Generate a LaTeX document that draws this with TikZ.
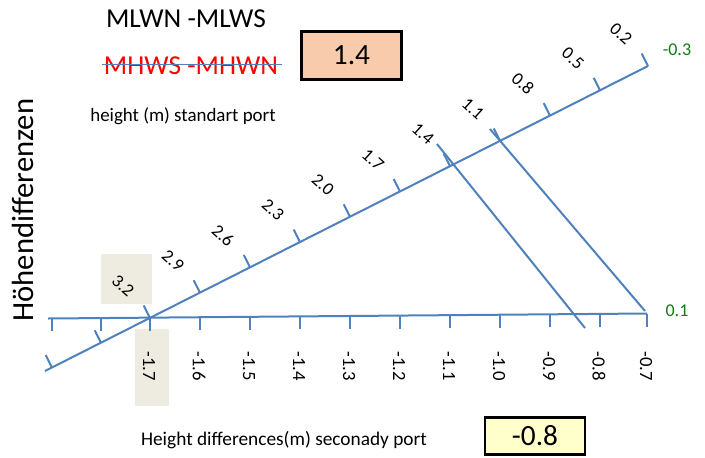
\documentclass[tikz,border=0pt]{standalone}
\usepackage{fontspec}
\setmainfont{Carlito}
\usepackage{xcolor}
\usetikzlibrary{positioning,calc}

\definecolor{scaleblue}{RGB}{79,129,189}
\definecolor{endgreen}{RGB}{20,120,20}
\definecolor{tanbg}{RGB}{238,236,225}
\definecolor{peach}{RGB}{248,203,173}
\definecolor{paleyellow}{RGB}{255,255,204}

\begin{document}
\begin{tikzpicture}[
    x=0.75pt, y=-0.75pt,
    scl/.style={draw=scaleblue, line width=1.5pt},
    dlbl/.style={font=\fontsize{13.5}{15}\selectfont, rotate=-42, inner sep=0pt},
    hlbl/.style={font=\fontsize{14}{16}\selectfont, rotate=-90, inner sep=0pt},
    endlbl/.style={text=endgreen, font=\fontsize{13.5}{15}\selectfont, inner sep=0pt},
    valbox/.style={draw=black, line width=2.2pt, minimum width=75pt, font=\fontsize{22}{26}\selectfont},
    headline/.style={font=\fontsize{20.5}{24}\selectfont, inner sep=0pt},
    caption/.style={font=\fontsize{14.5}{17}\selectfont, inner sep=0pt}
]
    \useasboundingbox (0,0) rectangle (705,457);

    % beige patches behind 3.2 and -1.7
    \fill[tanbg] (101,254) rectangle (152,304);
    \fill[tanbg] (135,329) rectangle (169,406);

    % the two scales
    \coordinate (h0) at (48,318.5);
    \coordinate (h1) at (647,313.5);
    \coordinate (d0) at (45,371);
    \coordinate (d1) at (648,66);
    \draw [scl] (h0) -- (h1);
    \draw [scl] (d0) -- (d1);

    \foreach \x in {52,101,150,200,250,300,350,400,450,500,550,600,647}
        \draw [scl] (\x,{318.5-(\x-48)*5/599}) -- ++(0,13);
    \foreach \x in {52,101,150,200,250,300,350,400,450,500,550,600,648}
        \draw [scl] (\x,{318-0.506*(\x-150)}) -- ++(-6.3,-12.5);

    \foreach \x/\v in {150/3.2,200/2.9,250/2.6,300/2.3,350/2.0,400/1.7,450/1.4,500/1.1,550/0.8,600/0.5,648/0.2}
        \node [dlbl] (ld\x) at ({\x-27},{318-0.506*(\x-150)-32}) {\v};
    \foreach \x/\v in {150/-1.7,200/-1.6,250/-1.5,300/-1.4,350/-1.3,400/-1.2,450/-1.1,500/-1.0,550/-0.9,600/-0.8,647/-0.7}
        \node [hlbl] (lh\x) at ({\x-1},366) {\v};

    \node [endlbl] (top) at (677,50) {-0.3};
    \node [endlbl] (bot) at (677,311) {0.1};

    % reading lines
    \coordinate (p1s) at (437,144);
    \coordinate (p1e) at (585,328);
    \coordinate (p2s) at (490,129);
    \coordinate (p2e) at (645,311);
    \draw [scl] (p1s) -- (p1e);
    \draw [scl] (p2s) -- (p2e);

    % texts
    \node [headline] (mlwn) at (186,19) {MLWN -MLWS};
    \node [headline, text=red] (mhws) at (191,66) {MHWS -MHWN};
    \draw [draw=scaleblue, line width=1.2pt] ([xshift=-1pt,yshift=1pt]mhws.west) -- ([xshift=3pt,yshift=1pt]mhws.east);
    \node [valbox, fill=peach, minimum height=36pt] (hival) at (351.5,55.5) {1.4};
    \node [caption, font=\fontsize{14.2}{17}\selectfont] (stdport) at (183,116) {height (m) standart port};

    \node [rotate=90, font=\fontsize{23}{27}\selectfont, inner sep=0pt] (ylbl) at (23,210) {Höhendifferenzen};

    \node [caption] (secport) at (284,440) {Height differences(m) seconady port};
    \node [valbox, fill=paleyellow, minimum height=28pt] (loval) at (535,436) {-0.8};
\end{tikzpicture}
\end{document}
